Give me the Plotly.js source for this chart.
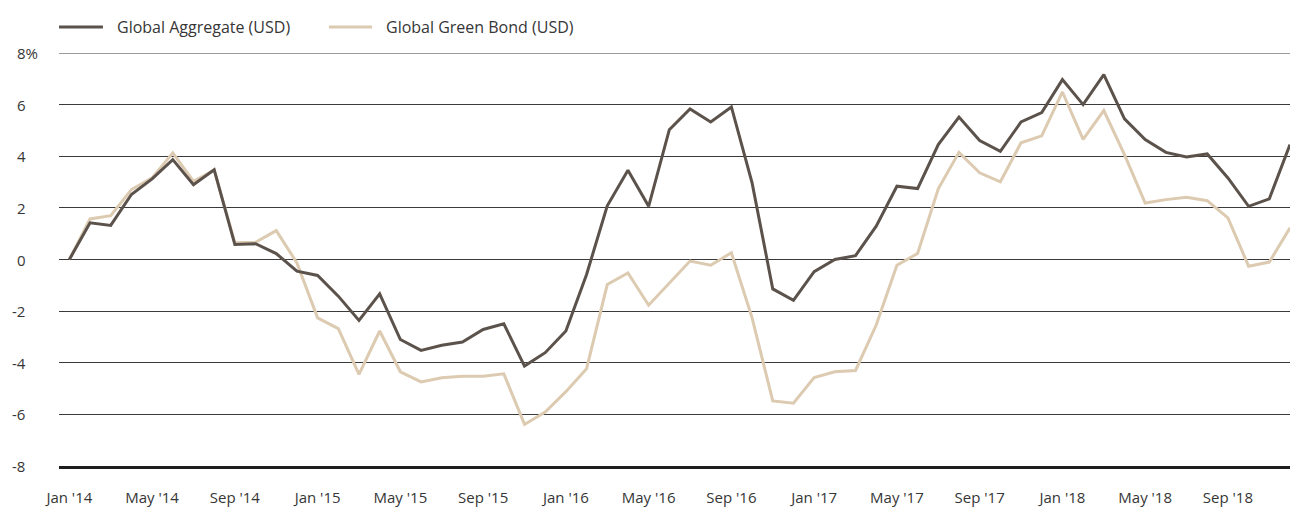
<!DOCTYPE html>
<html>
<head>
<meta charset="utf-8">
<script src="https://cdn.plot.ly/plotly-3.0.1.min.js"></script>
<style>
  html, body { margin: 0; padding: 0; background: #fff; }
  #chart { width: 1290px; height: 510px; }
</style>
</head>
<body>
<div id="chart"></div>
<script>
// ---- Data (monthly, Jan 2014 – Dec 2018), cumulative return in % ----
const monthNames = ["Jan","Feb","Mar","Apr","May","Jun","Jul","Aug","Sep","Oct","Nov","Dec"];
const years = ["14","15","16","17","18"];

const globalAggregate = [
  0.00, 1.42, 1.32, 2.52, 3.12, 3.87, 2.90, 3.48, 0.58, 0.61, 0.23, -0.45,
  -0.62, -1.42, -2.36, -1.33, -3.10, -3.52, -3.32, -3.20, -2.71, -2.49, -4.13, -3.61,
  -2.77, -0.58, 2.08, 3.46, 2.06, 5.03, 5.83, 5.33, 5.91, 2.97, -1.14, -1.58,
  -0.47, 0.00, 0.15, 1.29, 2.84, 2.75, 4.45, 5.52, 4.61, 4.19, 5.33, 5.69,
  6.97, 6.00, 7.16, 5.45, 4.65, 4.15, 3.97, 4.09, 3.16, 2.06, 2.35, 4.45
];

const globalGreenBond = [
  0.00, 1.57, 1.70, 2.71, 3.16, 4.13, 3.03, 3.46, 0.65, 0.67, 1.12, -0.13,
  -2.26, -2.68, -4.45, -2.77, -4.35, -4.74, -4.58, -4.52, -4.52, -4.43, -6.39, -5.91,
  -5.12, -4.23, -0.97, -0.52, -1.77, -0.92, -0.06, -0.22, 0.26, -2.26, -5.48, -5.57,
  -4.57, -4.35, -4.30, -2.54, -0.22, 0.23, 2.74, 4.15, 3.36, 3.01, 4.52, 4.79,
  6.49, 4.65, 5.77, 4.06, 2.19, 2.32, 2.41, 2.28, 1.61, -0.26, -0.10, 1.23
];

const seriesNames = ["Global Aggregate (USD)", "Global Green Bond (USD)"];
const xTickLabels = ["Jan '14","May '14","Sep '14","Jan '15","May '15","Sep '15","Jan '16","May '16",
                     "Sep '16","Jan '17","May '17","Sep '17","Jan '18","May '18","Sep '18"];
const yTickValues = [-8, -6, -4, -2, 0, 2, 4, 6, 8];

// category labels for each month
const months = [];
years.forEach(y => monthNames.forEach(m => months.push(m + " '" + y)));

const darkColor = "#5b524c";
const lightColor = "#dccab1";
const textColor = "#363636";
const gridColor = "#3a3a3a";
const fontFamily = "'Open Sans', 'Noto Sans', sans-serif";

const traces = [
  {
    x: months, y: globalGreenBond, type: "scatter", mode: "lines",
    name: seriesNames[1], line: { color: lightColor, width: 3 },
    hoverinfo: "x+y+name"
  },
  {
    x: months, y: globalAggregate, type: "scatter", mode: "lines",
    name: seriesNames[0], line: { color: darkColor, width: 3 },
    hoverinfo: "x+y+name"
  }
];

// y tick labels: digits left-aligned (x ≈ 17px), minus sign hanging left, "%" only on top label
const plotLeft = 59, plotWidth = 1231;
const yLabelAnnotations = yTickValues.map(v => ({
  xref: "paper", yref: "y",
  x: (40 - plotLeft) / plotWidth, y: v,
  xanchor: "right", yanchor: "middle",
  text: v === 8 ? "8%" : String(v) + '<span style="color:#ffffff">%</span>',
  showarrow: false,
  font: { family: fontFamily, size: 15, color: textColor }
}));

const legY = 1.063;
const layout = {
  width: 1290, height: 510,
  margin: { l: 59, r: 0, t: 53, b: 44, pad: 0 },
  paper_bgcolor: "#ffffff", plot_bgcolor: "#ffffff",
  showlegend: false,
  font: { family: fontFamily, size: 15, color: textColor },
  xaxis: {
    type: "category",
    range: [-0.5, months.length - 1],
    tickmode: "array",
    tickvals: xTickLabels,
    ticktext: xTickLabels,
    ticks: "",
    showgrid: false,
    zeroline: false,
    showline: true, linecolor: "#1e1e1e", linewidth: 3,
    tickfont: { family: fontFamily, size: 15, color: textColor },
    ticklabelstandoff: 16,
    fixedrange: true
  },
  yaxis: {
    range: [-8, 8],
    tickmode: "array",
    tickvals: yTickValues,
    showticklabels: false,
    ticks: "",
    showgrid: true, gridcolor: gridColor, gridwidth: 1,
    zeroline: false,
    showline: false,
    fixedrange: true
  },
  shapes: [
    // top gridline at 8% (Plotly omits the grid line on the plot edge)
    { type: "line", xref: "paper", yref: "y", x0: 0, x1: 1, y0: 8, y1: 8,
      line: { color: gridColor, width: 1 } },
    // legend samples
    { type: "line", xref: "paper", yref: "paper", x0: 0.0, x1: 0.0357, y0: legY, y1: legY,
      line: { color: darkColor, width: 3 } },
    { type: "line", xref: "paper", yref: "paper", x0: 0.2193, x1: 0.2543, y0: legY, y1: legY,
      line: { color: lightColor, width: 3 } }
  ],
  annotations: [
    { xref: "paper", yref: "paper", x: 0.0455, y: legY, xanchor: "left", yanchor: "middle",
      text: seriesNames[0], showarrow: false, font: { family: fontFamily, size: 16, color: textColor } },
    { xref: "paper", yref: "paper", x: 0.2640, y: legY, xanchor: "left", yanchor: "middle",
      text: seriesNames[1], showarrow: false, font: { family: fontFamily, size: 16, color: textColor } }
  ].concat(yLabelAnnotations)
};

Plotly.newPlot("chart", traces, layout, { displayModeBar: false });
</script>
</body>
</html>
